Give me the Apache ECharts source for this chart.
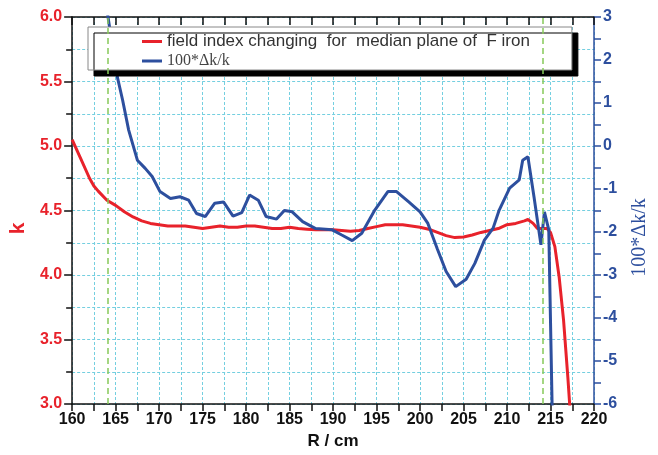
<!DOCTYPE html>
<html>
<head>
<meta charset="utf-8">
<script src="https://cdn.jsdelivr.net/npm/echarts@6/dist/echarts.min.js"></script>
<style>
  html, body { margin: 0; padding: 0; background: #fff; }
  #chart { width: 658px; height: 455px; }
</style>
</head>
<body>
<div id="chart"></div>
<script>
// field index k (left axis)
var rK = [160, 161, 162, 162.5, 163, 164, 165, 166, 167, 168, 169, 170, 171, 172, 173, 174, 175, 176, 177, 178,
  179, 180, 181, 182, 183, 184, 185, 186, 187, 188, 189, 190, 191, 192, 193, 194, 195, 196, 197, 198,
  199, 200, 201, 202, 203, 204, 205, 206, 207, 208, 209, 210, 211, 212, 212.4, 213, 213.5, 214, 214.6, 215,
  215.5, 216, 216.5, 217, 217.2, 217.4];
var kVals = [5.05, 4.90, 4.75, 4.69, 4.65, 4.58, 4.54, 4.49, 4.45, 4.42, 4.40, 4.39, 4.38, 4.38, 4.38, 4.37, 4.36, 4.37, 4.38, 4.37,
  4.37, 4.38, 4.38, 4.37, 4.36, 4.36, 4.37, 4.36, 4.355, 4.35, 4.35, 4.35, 4.345, 4.34, 4.345, 4.36, 4.375, 4.39, 4.39, 4.39,
  4.38, 4.37, 4.355, 4.33, 4.305, 4.29, 4.295, 4.31, 4.33, 4.345, 4.36, 4.39, 4.40, 4.42, 4.43, 4.40, 4.36, 4.36, 4.36, 4.33,
  4.22, 3.98, 3.65, 3.2, 3.0, 2.8];

// 100*dk/k (right axis)
var rD = [163.9, 164.5, 165.2, 165.8, 166.5, 167.5, 168.4, 169.2, 170.1, 171.3, 172.4, 173.4, 174.3, 175.3, 176.4, 177.4,
  178.5, 179.5, 180.4, 181.4, 182.3, 183.5, 184.4, 185.3, 186.5, 188.0, 189.9, 191.0, 192.2, 193.3, 194.8, 196.3,
  197.3, 198.7, 200.0, 200.9, 202.0, 203.0, 204.1, 205.3, 206.3, 207.4, 208.4, 209.1, 210.3, 211.4, 211.8, 212.4,
  213.1, 213.9, 214.3, 214.8, 215.2];
var dVals = [3.3, 2.5, 1.6, 1.07, 0.37, -0.33, -0.52, -0.71, -1.06, -1.22, -1.18, -1.26, -1.57, -1.64, -1.33, -1.30,
  -1.63, -1.55, -1.14, -1.26, -1.64, -1.70, -1.50, -1.53, -1.76, -1.92, -1.95, -2.07, -2.20, -2.03, -1.49, -1.06,
  -1.06, -1.30, -1.53, -1.80, -2.40, -2.92, -3.27, -3.10, -2.73, -2.19, -1.91, -1.49, -0.98, -0.79, -0.33, -0.25,
  -1.18, -2.30, -1.53, -1.95, -6.2];

var markR = [164.1, 214.1];
var seriesNames = ['field index changing  for  median plane of  F iron', '100*\u0394k/k'];

var RED = '#e8222b';
var BLUE = '#2d4f9e';
var GRID = '#74cfe0';
var SANS = 'Liberation Sans, Arial, sans-serif';
var SERIF = 'Liberation Serif, Times New Roman, serif';

function pairs(xs, ys) {
  var out = [];
  for (var i = 0; i < xs.length; i++) out.push([xs[i], ys[i]]);
  return out;
}

var gridLine = { show: true, lineStyle: { color: GRID, type: [3, 2], width: 1 } };

var myChart = echarts.init(document.getElementById('chart'), null, { renderer: 'canvas' });
var option = {
  animation: false,
  backgroundColor: '#fff',
  grid: { left: 71, right: 61, top: 17, bottom: 51 },
  legend: {
    left: 88,
    top: 27,
    orient: 'vertical',
    icon: 'rect',
    itemWidth: 20,
    itemHeight: 3,
    itemGap: 3,
    padding: [6, 42, 1, 54],
    backgroundColor: '#fff',
    borderColor: '#888',
    borderWidth: 1,
    shadowColor: '#000',
    shadowBlur: 0,
    shadowOffsetX: 6,
    shadowOffsetY: 6,
    selectedMode: false,
    data: [
      { name: seriesNames[0], textStyle: { fontFamily: SANS, fontSize: 17, color: '#333' } },
      { name: seriesNames[1], textStyle: { fontFamily: SERIF, fontSize: 16, color: '#444' } }
    ]
  },
  xAxis: [
    {
      type: 'value', position: 'bottom', min: 160, max: 220, interval: 5,
      name: 'R / cm', nameLocation: 'middle', nameGap: 28,
      nameTextStyle: { fontFamily: SANS, fontSize: 17, fontWeight: 'bold', color: '#111' },
      axisLine: { onZero: false, lineStyle: { color: '#111', width: 1.5 } },
      axisTick: { inside: false, length: 7, lineStyle: { color: '#111', width: 1.5 } },
      minorTick: { show: true, splitNumber: 2, length: 7, lineStyle: { color: '#111', width: 1.5 } },
      axisLabel: { fontFamily: SANS, fontSize: 16, fontWeight: 'bold', color: '#111', margin: 8 },
      splitLine: gridLine,
      minorSplitLine: gridLine
    },
    {
      type: 'value', position: 'top', min: 160, max: 220, interval: 2.5,
      axisLine: { onZero: false, lineStyle: { color: '#111', width: 1.5 } },
      axisTick: { inside: true, length: 8, lineStyle: { color: '#111', width: 1.5 } },
      axisLabel: { show: false },
      splitLine: { show: false }
    }
  ],
  yAxis: [
    {
      type: 'value', position: 'left', min: 3, max: 6, interval: 0.5,
      name: 'k', nameLocation: 'middle', nameGap: 42, nameRotate: 90,
      nameTextStyle: { fontFamily: SANS, fontSize: 21, fontWeight: 'bold', color: RED, padding: [0, 36, 0, 0] },
      axisLine: { show: true, onZero: false, lineStyle: { color: '#111', width: 1.5 } },
      axisTick: { show: true, inside: false, length: 8, lineStyle: { color: '#111', width: 1.5 } },
      minorTick: { show: true, splitNumber: 2, length: 6, lineStyle: { color: '#111', width: 1.5 } },
      axisLabel: {
        fontFamily: SANS, fontSize: 16, fontWeight: 'bold', color: RED, margin: 10,
        formatter: function (v) { return v.toFixed(1); }
      },
      splitLine: gridLine,
      minorSplitLine: gridLine
    },
    {
      type: 'value', position: 'right', min: -6, max: 3, interval: 1,
      name: '100*\u0394k/k', nameLocation: 'middle', nameGap: 36, nameRotate: 90,
      nameTextStyle: { fontFamily: SERIF, fontSize: 20, color: BLUE, padding: [0, 54, 0, 0] },
      axisLine: { show: true, onZero: false, lineStyle: { color: BLUE, width: 1.5 } },
      axisTick: { show: true, inside: false, length: 7, lineStyle: { color: BLUE, width: 1.5 } },
      minorTick: { show: true, splitNumber: 2, length: 7, lineStyle: { color: BLUE, width: 1.5 } },
      axisLabel: { fontFamily: SANS, fontSize: 16, fontWeight: 'bold', color: BLUE, margin: 9 },
      splitLine: { show: false }
    }
  ],
  series: [
    {
      name: seriesNames[0],
      type: 'line',
      xAxisIndex: 0,
      yAxisIndex: 0,
      data: pairs(rK, kVals),
      showSymbol: false,
      symbol: 'none',
      clip: true,
      lineStyle: { color: RED, width: 3 },
      itemStyle: { color: RED },
      markLine: {
        silent: true,
        symbol: 'none',
        label: { show: false },
        lineStyle: { color: '#86c95a', type: [6, 4], width: 1.5 },
        data: markR.map(function (x) { return { xAxis: x }; })
      }
    },
    {
      name: seriesNames[1],
      type: 'line',
      xAxisIndex: 0,
      yAxisIndex: 1,
      data: pairs(rD, dVals),
      showSymbol: false,
      symbol: 'none',
      clip: true,
      lineStyle: { color: BLUE, width: 3 },
      itemStyle: { color: BLUE }
    }
  ]
};
myChart.setOption(option);
</script>
</body>
</html>
